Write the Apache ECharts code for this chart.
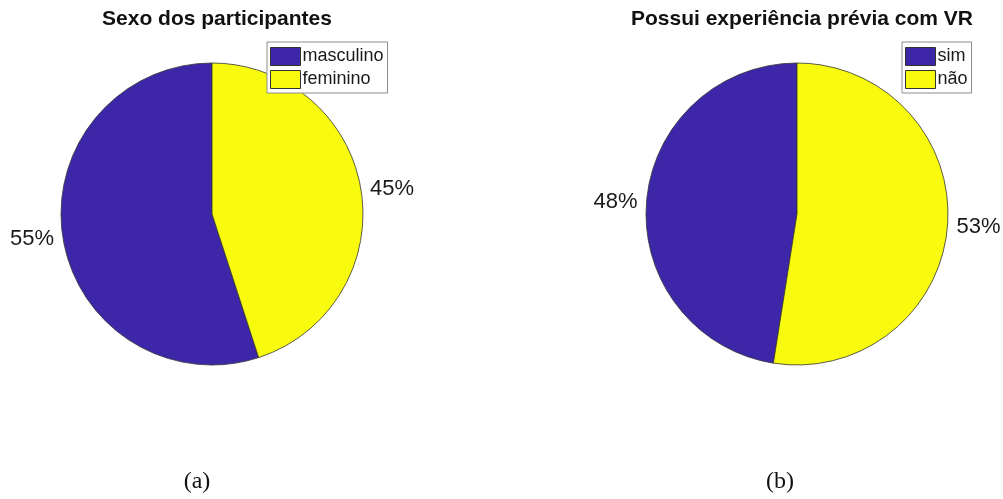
<!DOCTYPE html>
<html>
<head>
<meta charset="utf-8">
<script src="https://cdn.jsdelivr.net/npm/echarts@6/dist/echarts.min.js"></script>
<style>
  html, body { margin: 0; padding: 0; background: #fff; }
  #chart { width: 1003px; height: 499px; }
</style>
</head>
<body>
<div id="chart"></div>
<script>
// Survey answers (counts of participants)
const sexCategories = ['masculino', 'feminino'];
const sexValues = [22, 18];
const vrCategories = ['sim', 'não'];
const vrValues = [19, 21];
const titles = ['Sexo dos participantes', 'Possui experiência prévia com VR'];
const captions = ['(a)', '(b)'];

const BLUE = '#3e26a8';
const YELLOW = '#f9fb0e';
const SANS = '"Liberation Sans", Arial, Helvetica, sans-serif';
const SERIF = '"Liberation Serif", "DejaVu Serif", serif';

function pctLabel(values) {
  const total = values.reduce((a, b) => a + b, 0);
  return p => Math.round(p.value / total * 100) + '%';
}

function pieSeries(name, cats, vals, cx) {
  return {
    type: 'pie',
    name: name,
    center: [cx, 214],
    radius: 151,
    startAngle: 90,
    clockwise: false,
    silent: true,
    animation: false,
    avoidLabelOverlap: false,
    itemStyle: { borderColor: '#333', borderWidth: 0.8 },
    label: {
      show: true,
      position: 'outside',
      formatter: pctLabel(vals),
      fontFamily: SANS,
      fontSize: 22,
      color: '#1a1a1a',
      distanceToLabelLine: 0
    },
    labelLine: { show: false, length: 9, length2: 0 },
    data: cats.map((c, i) => ({
      name: c,
      value: vals[i],
      itemStyle: { color: i === 0 ? BLUE : YELLOW }
    }))
  };
}

function legendFor(cats, left) {
  return {
    data: cats,
    orient: 'vertical',
    left: left,
    top: 42,
    padding: [5, 4, 4, 3],
    itemWidth: 30,
    itemHeight: 18,
    itemGap: 4,
    icon: 'rect',
    selectedMode: false,
    borderColor: '#8c8c8c',
    borderWidth: 1,
    backgroundColor: '#fff',
    itemStyle: { borderColor: '#333', borderWidth: 1 },
    textStyle: { fontFamily: SANS, fontSize: 18, lineHeight: 18, color: '#1a1a1a', padding: [0, 0, 0, -3] }
  };
}

const titleStyle = { fontFamily: SANS, fontWeight: 'bold', fontSize: 21, color: '#111' };
const captionStyle = { fontFamily: SERIF, fontWeight: 'normal', fontSize: 24, color: '#111' };

const chart = echarts.init(document.getElementById('chart'), null, { renderer: 'canvas' });
chart.setOption({
  backgroundColor: '#fff',
  animation: false,
  title: [
    { text: titles[0], left: 212, top: 4, textAlign: 'center', textStyle: titleStyle },
    { text: titles[1], left: 797, top: 4, textAlign: 'center', textStyle: titleStyle },
    { text: captions[0], left: 197, top: 470, padding: 0, textAlign: 'center', textStyle: captionStyle },
    { text: captions[1], left: 780, top: 470, padding: 0, textAlign: 'center', textStyle: captionStyle }
  ],
  legend: [legendFor(sexCategories, 267), legendFor(vrCategories, 902)],
  series: [
    pieSeries('Sexo', sexCategories, sexValues, 212),
    pieSeries('VR', vrCategories, vrValues, 797)
  ]
});
</script>
</body>
</html>
